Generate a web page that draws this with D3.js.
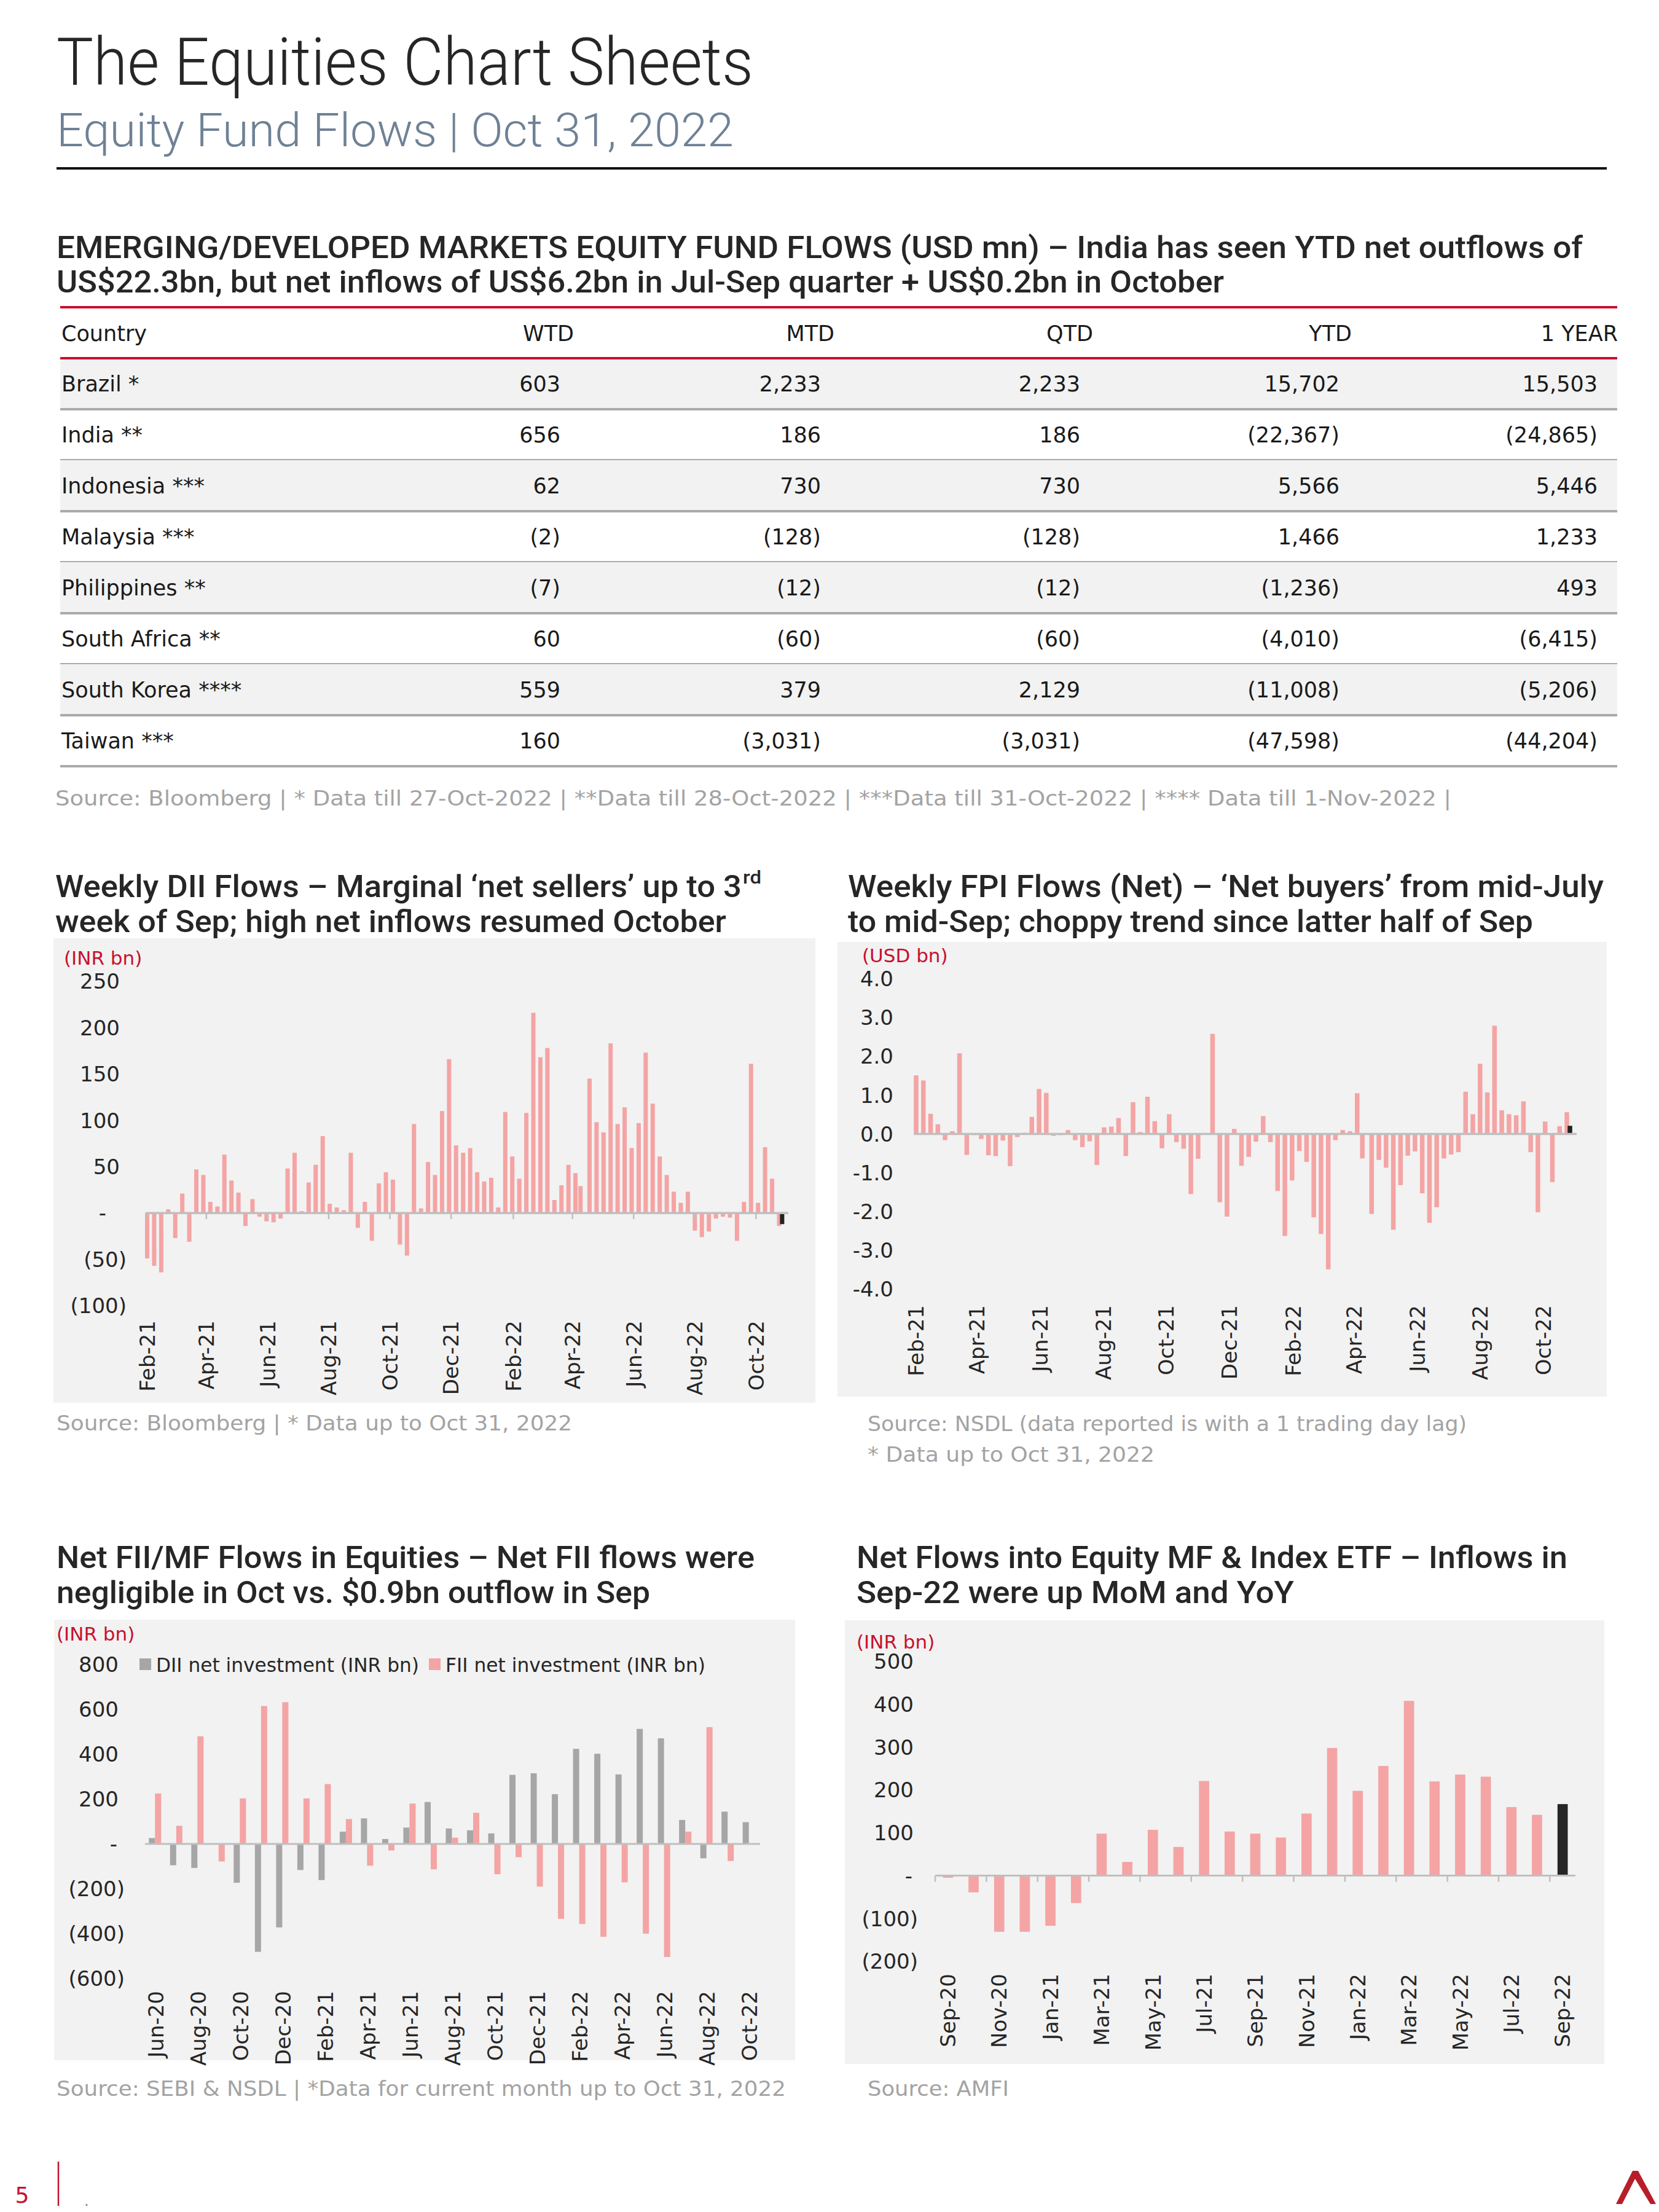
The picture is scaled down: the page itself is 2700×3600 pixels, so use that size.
<!DOCTYPE html>
<html>
<head>
<meta charset="utf-8">
<script src="https://cdn.jsdelivr.net/npm/d3@7"></script>
<style>
  body { margin: 0; background: #fff; }
  svg { display: block; }
</style>
</head>
<body>
<div id="page"></div>
<script>
// ── Data: fund flow table ─────────────────────────────────────────────────────
const tableCountries = ["Brazil *", "India **", "Indonesia ***", "Malaysia ***", "Philippines **",
                        "South Africa **", "South Korea ****", "Taiwan ***"];
const tableColumns = ["WTD", "MTD", "QTD", "YTD", "1 YEAR"];
const wtd     = [603, 656, 62, -2, -7, 60, 559, 160];
const mtd     = [2233, 186, 730, -128, -12, -60, 379, -3031];
const qtd     = [2233, 186, 730, -128, -12, -60, 2129, -3031];
const ytd     = [15702, -22367, 5566, 1466, -1236, -4010, -11008, -47598];
const oneYear = [15503, -24865, 5446, 1233, 493, -6415, -5206, -44204];

// ── Data: weekly flows (one value per week, Fridays Feb-21 .. Oct-22) ─────────
const firstWeek  = "2021-02-05";
const lastWeek   = "2022-10-28";
const shiftedWeeks = { "2022-04-15": "2022-04-13" };   // holiday week reported early
const latestDate = "2022-10-31";
const weeklyTicks = ["2021-02-05", "2021-04-05", "2021-06-05", "2021-08-05", "2021-10-05", "2021-12-05",
                     "2022-02-05", "2022-04-05", "2022-06-05", "2022-08-05", "2022-10-05"];

const diiWeekly = [-49, -57, -64, 4, -27, 21, -31, 47, 41, 12, 7, 63, 35, 22, -14, 15, -4, -9, -10, -6,
                   48, 65, 2, 33, 52, 83, 10, 6, 3, 65, -16, 12, -30, 32, 44, 36, -34, -46, 96, 5,
                   55, 41, 110, 166, 73, 65, 70, 44, 34, 38, 6, 109, 61, 37, 108, 216, 168, 178, 14, 30,
                   52, 43, 29, 145, 98, 87, 183, 96, 114, 70, 97, 173, 118, 61, 41, 23, 11, 23, -19, -26,
                   -20, -6, -4, -5, -30, 12, 161, 11, 71, 37, -14];
const diiLatest = -12;

const fpiWeekly = [1.51, 1.38, 0.52, 0.25, -0.16, 0.07, 2.08, -0.54, -0.03, -0.13, -0.55, -0.57, -0.17, -0.83,
                   -0.08, 0.03, 0.44, 1.16, 1.06, -0.05, -0.03, 0.10, -0.16, -0.34, -0.19, -0.80, 0.17, 0.19,
                   0.41, -0.57, 0.82, 0.05, 0.96, 0.33, -0.37, 0.51, -0.21, -0.38, -1.55, -0.64, -0.02, 2.58,
                   -1.76, -2.13, 0.13, -0.82, -0.59, -0.20, 0.46, -0.21, -1.47, -2.63, -1.20, -0.44, -0.72,
                   -2.15, -2.58, -3.49, -0.16, 0.10, 0.07, 1.05, -0.63, -2.06, -0.67, -0.87, -2.47, -1.32,
                   -0.56, -0.45, -1.53, -2.29, -1.89, -0.63, -0.53, -0.47, 1.09, 0.51, 1.81, 1.07, 2.79,
                   0.61, 0.51, 0.48, 0.84, -0.47, -2.02, 0.32, -1.24, 0.20, 0.56];
const fpiLatest = 0.21;

// ── Data: monthly FII / DII (INR bn) ──────────────────────────────────────────
const flowMonths = ["Jun-20", "Jul-20", "Aug-20", "Sep-20", "Oct-20", "Nov-20", "Dec-20", "Jan-21", "Feb-21",
                    "Mar-21", "Apr-21", "May-21", "Jun-21", "Jul-21", "Aug-21", "Sep-21", "Oct-21", "Nov-21",
                    "Dec-21", "Jan-22", "Feb-22", "Mar-22", "Apr-22", "May-22", "Jun-22", "Jul-22", "Aug-22",
                    "Sep-22", "Oct-22"];
const diiMonthly = [26, -95, -107, 2, -173, -481, -372, -116, -161, 55, 114, 22, 73, 187, 69, 61, 47, 308,
                    315, 222, 424, 402, 310, 513, 471, 107, -64, 144, 97];
const fiiMonthly = [225, 81, 480, -78, 203, 615, 632, 203, 267, 111, -97, -29, 180, -113, 28, 139, -135, -59,
                    -190, -334, -357, -414, -171, -400, -504, 55, 521, -76, 2];
const flowSeries = ["DII net investment (INR bn)", "FII net investment (INR bn)"];

// ── Data: equity MF & index ETF net flows (INR bn) ────────────────────────────
const mfMonths = ["Sep-20", "Oct-20", "Nov-20", "Dec-20", "Jan-21", "Feb-21", "Mar-21", "Apr-21", "May-21",
                  "Jun-21", "Jul-21", "Aug-21", "Sep-21", "Oct-21", "Nov-21", "Dec-21", "Jan-22", "Feb-22",
                  "Mar-22", "Apr-22", "May-22", "Jun-22", "Jul-22", "Aug-22", "Sep-22"];
const mfFlows = [-5, -39, -131, -131, -117, -64, 98, 32, 107, 67, 221, 103, 98, 89, 145, 298, 198, 256,
                 408, 220, 236, 231, 160, 142, 167];

// ── Style ─────────────────────────────────────────────────────────────────────
const BODY  = "'DejaVu Sans', Verdana, sans-serif";
const HEAD  = "Roboto, 'Open Sans', sans-serif";
const INK   = "#262626";
const PINK  = "#F4A4A4";
const GREY  = "#A6A6A6";
const RED   = "#C8102E";
const PANEL = "#F2F2F2";
const AXIS  = "#BFBFBF";
const NOTE  = "#A3A3A3";
const TICK_SIZE = 34;

const svg = d3.select("#page").append("svg").attr("width", 2700).attr("height", 3600);
svg.append("rect").attr("width", 2700).attr("height", 3600).attr("fill", "#fff");

function label(g, x, y, str, o = {}) {
  const t = g.append("text").attr("x", x).attr("y", y).text(str)
    .attr("font-family", o.font || BODY)
    .attr("font-size", o.size || 32)
    .attr("font-weight", o.weight || 400)
    .attr("fill", o.fill || INK)
    .attr("text-anchor", o.anchor || "start");
  if (o.len) t.attr("textLength", o.len).attr("lengthAdjust", "spacingAndGlyphs");
  if (o.dy) t.attr("dy", o.dy);
  return t;
}

const num = d3.format(",");
const acct = v => v < 0 ? `(${num(-v)})` : v === 0 ? "-" : num(v);
const oneDecimal = d3.formatLocale({ decimal: ".", thousands: ",", grouping: [3], currency: ["", ""], minus: "-" }).format(".1f");

// ── Header ────────────────────────────────────────────────────────────────────
label(svg, 92, 138, "The Equities Chart Sheets", { font: HEAD, size: 108, weight: 300, len: 1134 });
label(svg, 92, 238, "Equity Fund Flows | Oct 31, 2022", { font: HEAD, size: 76, weight: 300, fill: "#6E8196", len: 1102 });
svg.append("line").attr("x1", 92).attr("x2", 2615).attr("y1", 274).attr("y2", 274)
  .attr("stroke", "#111").attr("stroke-width", 4);

label(svg, 92, 420, "EMERGING/DEVELOPED MARKETS EQUITY FUND FLOWS (USD mn) – India has seen YTD net outflows of",
  { font: HEAD, size: 50, weight: 500, len: 2484 });
label(svg, 92, 476, "US$22.3bn, but net inflows of US$6.2bn in Jul-Sep quarter + US$0.2bn in October",
  { font: HEAD, size: 50, weight: 500, len: 1900 });

// ── Table ─────────────────────────────────────────────────────────────────────
const tableLeft = 98, tableRight = 2632, rowTop = 583, rowH = 83;
const valueRight  = [912, 1336, 1758, 2180, 2600];
const headerRight = [934, 1358, 1779, 2200, 2633];
const columns = [wtd, mtd, qtd, ytd, oneYear];

const table = svg.append("g");
tableCountries.forEach((c, i) => {
  const y0 = rowTop + i * rowH;
  if (i % 2 === 0) table.append("rect").attr("x", tableLeft).attr("y", y0)
    .attr("width", tableRight - tableLeft).attr("height", rowH).attr("fill", PANEL);
  table.append("line").attr("x1", tableLeft).attr("x2", tableRight)
    .attr("y1", y0 + rowH).attr("y2", y0 + rowH).attr("stroke", "#ABABAB").attr("stroke-width", 4);
  label(table, 100, y0 + rowH / 2, c, { size: 35, dy: "0.36em", fill: "#1a1a1a" });
  columns.forEach((col, j) =>
    label(table, valueRight[j], y0 + rowH / 2, acct(col[i]), { size: 35, anchor: "end", dy: "0.36em", fill: "#1a1a1a" }));
});
label(table, 100, 542, "Country", { size: 35, dy: "0.36em", fill: "#1a1a1a" });
tableColumns.forEach((h, j) => label(table, headerRight[j], 542, h, { size: 35, anchor: "end", dy: "0.36em", fill: "#1a1a1a" }));
[500, 583].forEach(y => table.append("line").attr("x1", tableLeft).attr("x2", tableRight)
  .attr("y1", y).attr("y2", y).attr("stroke", RED).attr("stroke-width", 4));

label(svg, 90, 1311, "Source: Bloomberg | * Data till 27-Oct-2022 | **Data till 28-Oct-2022 | ***Data till 31-Oct-2022 | **** Data till 1-Nov-2022 |",
  { size: 34, fill: NOTE, len: 2272 });

// ── Shared pieces ─────────────────────────────────────────────────────────────
function panel(x, y, w, h) {
  svg.append("rect").attr("x", x).attr("y", y).attr("width", w).attr("height", h).attr("fill", PANEL);
}

function yLabels(g, y, ticks, rightX, fmt, posDx, zeroDx) {
  ticks.forEach(t => {
    const dx = t < 0 ? 0 : t === 0 ? zeroDx : posDx;
    label(g, rightX + dx, y(t), fmt(t), { size: TICK_SIZE, anchor: "end", dy: "0.36em" });
  });
}

function xLabel(g, x, top, str) {
  g.append("text")
    .attr("transform", `translate(${x},${top}) rotate(-90)`)
    .attr("text-anchor", "end").attr("dy", "0.36em")
    .attr("font-family", BODY).attr("font-size", TICK_SIZE).attr("fill", INK)
    .text(str);
}

// ── Weekly bar charts (DII, FPI) ──────────────────────────────────────────────
const parseDay = d3.utcParse("%Y-%m-%d");
const fmtDay = d3.utcFormat("%Y-%m-%d");
const weekDates = d3.utcFriday.range(parseDay(firstWeek), d3.utcDay.offset(parseDay(lastWeek), 1))
  .map(d => parseDay(shiftedWeeks[fmtDay(d)] || fmtDay(d)));
const tickDates = weeklyTicks.map(parseDay);
const monthLabel = d3.utcFormat("%b-%y");

function weeklyChart(cfg) {
  const g = svg.append("g");
  const x = d3.scaleUtc().domain([parseDay(firstWeek), parseDay(lastWeek)]).range(cfg.xRange);
  const y = d3.scaleLinear().domain(cfg.yDomain).range(cfg.yRange);
  const bw = cfg.barWidth;

  const rows = weekDates.map((d, i) => ({ d, v: cfg.values[i] }));
  g.selectAll("rect.week").data(rows).join("rect").attr("class", "week")
    .attr("x", r => x(r.d) - bw / 2).attr("width", bw)
    .attr("y", r => y(Math.max(0, r.v))).attr("height", r => Math.abs(y(r.v) - y(0)))
    .attr("fill", PINK);
  const latest = { d: parseDay(latestDate), v: cfg.latest };
  g.append("rect")
    .attr("x", x(latest.d) - bw / 2).attr("width", bw)
    .attr("y", y(Math.max(0, latest.v))).attr("height", Math.abs(y(latest.v) - y(0)))
    .attr("fill", "#222");

  g.append("line").attr("x1", cfg.axisExtent[0]).attr("x2", cfg.axisExtent[1])
    .attr("y1", y(0)).attr("y2", y(0)).attr("stroke", AXIS).attr("stroke-width", 3.5);
  if (cfg.tickMarks) tickDates.forEach(t => g.append("line")
    .attr("x1", x(t)).attr("x2", x(t)).attr("y1", y(0)).attr("y2", y(0) + 10)
    .attr("stroke", AXIS).attr("stroke-width", 2.5));

  yLabels(g, y, cfg.yTicks, cfg.labelRight, cfg.fmt, cfg.posDx, cfg.zeroDx);
  tickDates.forEach(t => xLabel(g, x(t), cfg.xLabelTop, monthLabel(t)));
}

// DII
panel(87, 1527, 1240, 756);
label(svg, 90, 1460, "Weekly DII Flows – Marginal ‘net sellers’ up to 3", { font: HEAD, size: 50, weight: 500, len: 1117 });
label(svg, 1209, 1438, "rd", { font: HEAD, size: 30, weight: 500, len: 30 });
label(svg, 90, 1517, "week of Sep; high net inflows resumed October", { font: HEAD, size: 50, weight: 500, len: 1092 });
label(svg, 104, 1559, "(INR bn)", { size: 31, fill: RED, dy: "0.36em" });
weeklyChart({
  values: diiWeekly, latest: diiLatest,
  xRange: [239.5, 1268], yDomain: [-100, 250], yRange: [2125, 1597],
  yTicks: [-100, -50, 0, 50, 100, 150, 200, 250], fmt: acct,
  labelRight: 206, posDx: -11, zeroDx: -33,
  axisExtent: [237, 1283], tickMarks: true, barWidth: 7, xLabelTop: 2149
});
label(svg, 92, 2328, "Source: Bloomberg | * Data up to Oct 31, 2022", { size: 34, fill: NOTE, len: 839 });

// FPI
panel(1363, 1533, 1252, 740);
label(svg, 1380, 1460, "Weekly FPI Flows (Net) – ‘Net buyers’ from mid-July", { font: HEAD, size: 50, weight: 500, len: 1230 });
label(svg, 1380, 1517, "to mid-Sep; choppy trend since latter half of Sep", { font: HEAD, size: 50, weight: 500, len: 1115 });
label(svg, 1403, 1555, "(USD bn)", { size: 31, fill: RED, dy: "0.36em" });
weeklyChart({
  values: fpiWeekly, latest: fpiLatest,
  xRange: [1491, 2550], yDomain: [-4, 4], yRange: [2098, 1593],
  yTicks: d3.range(-4, 4.5, 1), fmt: oneDecimal,
  labelRight: 1454, posDx: 0, zeroDx: 0,
  axisExtent: [1487, 2566], tickMarks: false, barWidth: 7.5, xLabelTop: 2124
});
label(svg, 1412, 2329, "Source: NSDL (data reported is with a 1 trading day lag)", { size: 34, fill: NOTE, len: 975 });
label(svg, 1412, 2379, "* Data up to Oct 31, 2022", { size: 34, fill: NOTE, len: 467 });

// ── Net FII / MF flows ────────────────────────────────────────────────────────
panel(88, 2636, 1206, 717);
label(svg, 92, 2552, "Net FII/MF Flows in Equities – Net FII flows were", { font: HEAD, size: 50, weight: 500, len: 1136 });
label(svg, 92, 2609, "negligible in Oct vs. $0.9bn outflow in Sep", { font: HEAD, size: 50, weight: 500, len: 966 });
label(svg, 92, 2659, "(INR bn)", { size: 31, fill: RED, dy: "0.36em" });
{
  const g = svg.append("g");
  const x = d3.scaleBand().domain(flowMonths).range([236, 1237]);
  const xi = d3.scaleBand().domain(flowSeries).range([-11, 9]);
  const y = d3.scaleLinear().domain([-600, 800]).range([3220, 2709]);
  const seriesValues = [diiMonthly, fiiMonthly];
  const seriesColor = [GREY, PINK];
  flowSeries.forEach((s, k) => {
    g.selectAll(null).data(flowMonths).join("rect")
      .attr("x", (m) => x(m) + x.bandwidth() / 2 + xi(s)).attr("width", xi.bandwidth())
      .attr("y", (m, i) => y(Math.max(0, seriesValues[k][i])))
      .attr("height", (m, i) => Math.abs(y(seriesValues[k][i]) - y(0)))
      .attr("fill", seriesColor[k]);
  });
  g.append("line").attr("x1", 236).attr("x2", 1237).attr("y1", y(0)).attr("y2", y(0))
    .attr("stroke", AXIS).attr("stroke-width", 3);
  yLabels(g, y, d3.range(-600, 801, 200), 203, acct, -10, -12);
  flowMonths.forEach((m, i) => { if (i % 2 === 0) xLabel(g, x(m) + x.bandwidth() / 2, 3240, m); });

  // legend
  [[227, 254, 428], [698, 725, 423]].forEach(([sx, tx, len], k) => {
    g.append("rect").attr("x", sx).attr("y", y(800) - 10).attr("width", 19).attr("height", 19).attr("fill", seriesColor[k]);
    label(g, tx, y(800), flowSeries[k], { size: 32, dy: "0.36em", len });
  });
}
label(svg, 92, 3411, "Source: SEBI & NSDL | *Data for current month up to Oct 31, 2022", { size: 34, fill: NOTE, len: 1187 });

// ── Equity MF & index ETF flows ───────────────────────────────────────────────
panel(1375, 2637, 1236, 722);
label(svg, 1394, 2552, "Net Flows into Equity MF & Index ETF – Inflows in", { font: HEAD, size: 50, weight: 500, len: 1157 });
label(svg, 1394, 2609, "Sep-22 were up MoM and YoY", { font: HEAD, size: 50, weight: 500, len: 712 });
label(svg, 1394, 2672, "(INR bn)", { size: 31, fill: RED, dy: "0.36em" });
{
  const g = svg.append("g");
  const x = d3.scaleBand().domain(mfMonths).range([1522, 2564]).paddingInner(0.6).paddingOuter(0.3);
  const y = d3.scaleLinear().domain([-200, 500]).range([3192, 2704]);
  g.selectAll(null).data(mfMonths).join("rect")
    .attr("x", m => x(m)).attr("width", x.bandwidth())
    .attr("y", (m, i) => y(Math.max(0, mfFlows[i])))
    .attr("height", (m, i) => Math.abs(y(mfFlows[i]) - y(0)))
    .attr("fill", (m, i) => i === mfMonths.length - 1 ? "#262626" : PINK);
  g.append("line").attr("x1", 1522).attr("x2", 2564).attr("y1", y(0)).attr("y2", y(0))
    .attr("stroke", AXIS).attr("stroke-width", 3);
  d3.range(0, mfMonths.length, 2).forEach(i => {
    const bx = x.range()[0] + i * x.step();
    g.append("line").attr("x1", bx).attr("x2", bx).attr("y1", y(0)).attr("y2", y(0) + 10)
      .attr("stroke", AXIS).attr("stroke-width", 2.5);
  });
  yLabels(g, y, d3.range(-200, 501, 100), 1494, acct, -7, -9);
  mfMonths.forEach((m, i) => { if (i % 2 === 0) xLabel(g, x(m) + x.bandwidth() / 2, 3212, m); });
}
label(svg, 1412, 3411, "Source: AMFI", { size: 34, fill: NOTE, len: 230 });

// ── Footer ────────────────────────────────────────────────────────────────────
label(svg, 36, 3572, "5", { size: 36, fill: RED, anchor: "middle", dy: "0.36em" });
svg.append("line").attr("x1", 95).attr("x2", 95).attr("y1", 3518).attr("y2", 3590)
  .attr("stroke", RED).attr("stroke-width", 2.5);
label(svg, 137, 3590, ".", { size: 24, fill: "#888" });
svg.append("path")
  .attr("d", "M2630,3587 L2657,3533 L2666,3533 L2695,3587 L2686,3587 L2661,3546 L2640,3587 Z")
  .attr("fill", "#B81E2A");
</script>
</body>
</html>
